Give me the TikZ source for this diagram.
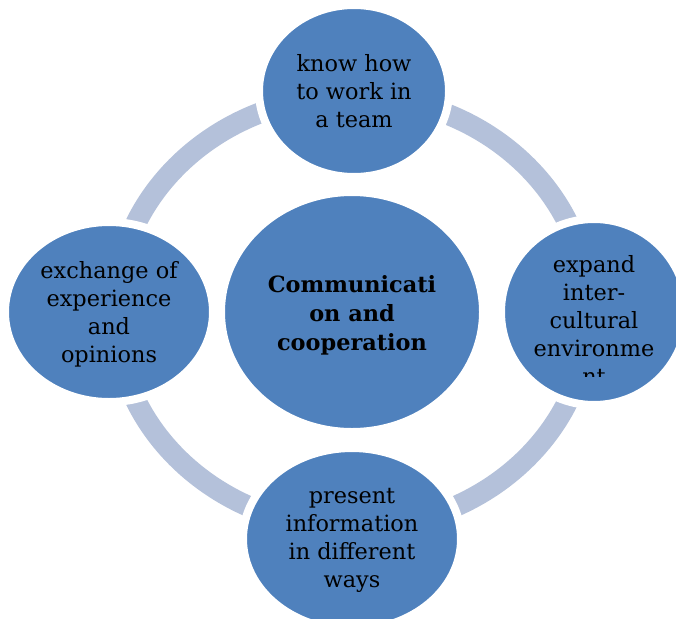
\documentclass[tikz,border=0pt]{standalone}
\usepackage{fontspec}
\setmainfont{DejaVu Serif}
\usetikzlibrary{shapes.geometric}
\definecolor{blobblue}{HTML}{4F81BD}
\definecolor{ringgrey}{HTML}{B4C1DA}

\begin{document}
\begin{tikzpicture}[
    x=1pt, y=-1pt,
    blob/.style={ellipse, draw=white, line width=8pt, fill=blobblue, inner sep=0pt},
    txt/.style={align=center, inner sep=0pt, font={\fontsize{22.4}{28}\selectfont}},
    bigtxt/.style={txt, font={\fontsize{22.4}{29}\selectfont\bfseries}},
    ring/.style={draw=ringgrey, line width=21pt}
]
\clip (0,0) rectangle (676,618);
\draw[ring] (352,312) ellipse [x radius=237pt, y radius=216pt];

\node[blob, minimum width=262pt, minimum height=240pt] (core) at (352,312) {};
\node[blob, minimum width=190pt, minimum height=172pt] (team) at (354,91) {};
\node[blob, minimum width=186pt, minimum height=186pt] (env) at (594,312) {};
\node[blob, minimum width=218pt, minimum height=182pt] (info) at (352,539) {};
\node[blob, minimum width=208pt, minimum height=180pt] (exch) at (109,312) {};

\node[bigtxt] (coretxt) at (352,315) {Communicati\\on and\\cooperation};
\node[txt] (teamtxt) at (354,91.5) {know how\\to work in\\a team};
\node[txt] (infotxt) at (352,540) {present\\information\\in different\\ways};
\node[txt] (exchtxt) at (109,314) {exchange of\\experience\\and\\opinions};
\begin{scope}
  \clip (480,200) rectangle (676,376);
  \node[txt] (envtxt) at (594,320.5) {expand\\inter-\\cultural\\environme\\nt};
\end{scope}
\end{tikzpicture}
\end{document}
